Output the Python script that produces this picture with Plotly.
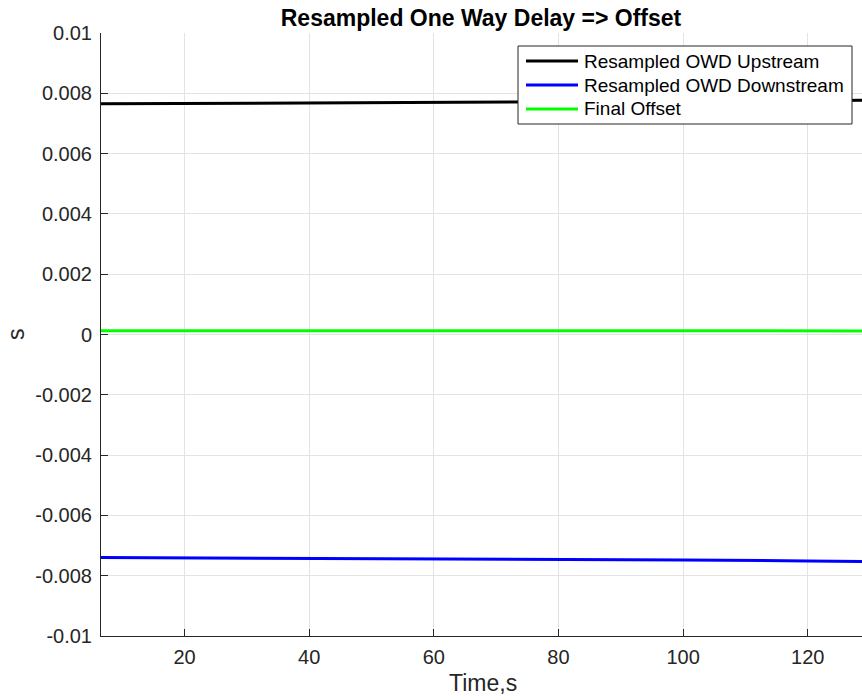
import plotly.graph_objects as go

# Resampled one-way delay series (seconds) over time (seconds)
time_s = [6.6, 20, 40, 60, 80, 100, 120, 128.7]
owd_upstream = [0.00765, 0.00766, 0.00767, 0.00769, 0.00771, 0.00773, 0.00775, 0.00777]
owd_downstream = [-0.00740, -0.00741, -0.00742, -0.00744, -0.00746, -0.00748, -0.00751, -0.00753]
final_offset = [0.000125, 0.000125, 0.000125, 0.000125, 0.000125, 0.000122, 0.00012, 0.00012]

series_names = ["Resampled OWD Upstream", "Resampled OWD Downstream", "Final Offset"]
series_colors = ["#000000", "#0000ff", "#00ff00"]

x_ticks = [20, 40, 60, 80, 100, 120]
y_ticks = [-0.01, -0.008, -0.006, -0.004, -0.002, 0, 0.002, 0.004, 0.006, 0.008, 0.01]
y_tick_text = ["-0.01", "-0.008", "-0.006", "-0.004", "-0.002", "0",
               "0.002", "0.004", "0.006", "0.008", "0.01"]

W, H = 862, 700
L, R, T, B = 101, 0, 33, 64
FONT = "Liberation Sans, Arial, Helvetica, sans-serif"
AX = "#262626"


def px(xp):
    return (xp - L) / (W - L - R)


def py(yp):
    return (H - B - yp) / (H - T - B)


fig = go.Figure()
for ys, name, color in zip([owd_upstream, owd_downstream, final_offset], series_names, series_colors):
    fig.add_trace(go.Scatter(x=time_s, y=ys, mode="lines", name=name,
                             line=dict(color=color, width=3), showlegend=False))

shapes = []
annotations = []

# legend box with line samples
shapes.append(dict(type="rect", xref="paper", yref="paper",
                   x0=px(518), x1=px(852), y0=py(124), y1=py(46),
                   line=dict(color=AX, width=1), fillcolor="white", layer="above"))
for i, (name, color) in enumerate(zip(series_names, series_colors)):
    yc = 61 + i * 24
    shapes.append(dict(type="line", xref="paper", yref="paper",
                       x0=px(526), x1=px(578), y0=py(yc), y1=py(yc),
                       line=dict(color=color, width=3), layer="above"))
    annotations.append(dict(text=name, xref="paper", yref="paper",
                            x=px(582), y=py(yc), xanchor="left", yanchor="middle",
                            showarrow=False, font=dict(family=FONT, size=19, color="#000000")))

# axis titles
annotations.append(dict(text="Time,s", xref="paper", yref="paper", x=px(483), y=py(683),
                        xanchor="center", yanchor="middle", showarrow=False,
                        font=dict(family=FONT, size=23, color=AX)))
annotations.append(dict(text="s", xref="paper", yref="paper", x=px(16), y=py(334),
                        xanchor="center", yanchor="middle", textangle=-90, showarrow=False,
                        font=dict(family=FONT, size=23, color=AX)))

fig.update_layout(
    width=W, height=H,
    margin=dict(l=L, r=R, t=T, b=B, autoexpand=False),
    paper_bgcolor="white", plot_bgcolor="white",
    font=dict(family=FONT, size=20, color=AX),
    title=dict(text="Resampled One Way Delay => Offset", x=481 / W, xanchor="center",
               y=1 - 18 / H, yanchor="middle",
               font=dict(family=FONT, size=23, color="#000000", weight="bold")),
    shapes=shapes, annotations=annotations,
    xaxis=dict(range=[6.6, 128.7], tickvals=x_ticks, ticks="inside", ticklen=7,
               tickcolor=AX, showline=True, linecolor=AX, linewidth=1,
               showgrid=True, gridcolor="#e3e3e3", gridwidth=1, zeroline=False,
               ticklabelstandoff=3, tickfont=dict(family=FONT, size=20, color=AX)),
    yaxis=dict(range=[-0.01, 0.01], tickvals=y_ticks, ticktext=y_tick_text,
               ticks="inside", ticklen=7, tickcolor=AX, showline=True, linecolor=AX,
               linewidth=1, showgrid=True, gridcolor="#e3e3e3", gridwidth=1,
               zeroline=False, ticklabelstandoff=4,
               tickfont=dict(family=FONT, size=20, color=AX)),
)

fig.write_html("out.html")
